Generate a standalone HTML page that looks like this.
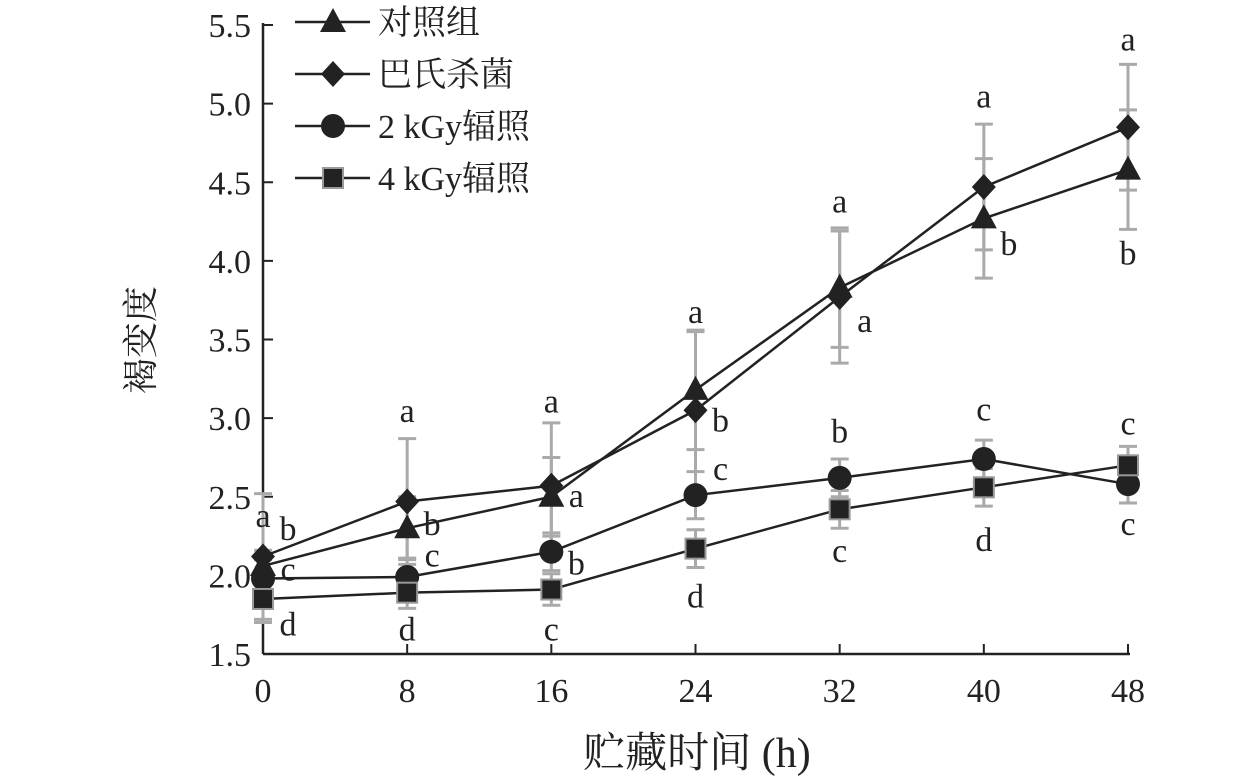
<!DOCTYPE html>
<html><head><meta charset="utf-8"><style>
html,body{margin:0;padding:0;background:#fff;}
svg{display:block;font-family:"Liberation Serif","Noto Serif CJK SC",serif;}
</style></head><body>
<svg id="chart" width="1260" height="783" viewBox="0 0 1260 783">
<g id="axes"></g><g id="err"></g><g id="lines"></g><g id="marks"></g><g id="letters"></g><g id="legend"></g>
</svg>
<script>
const xCats=[0,8,16,24,32,40,48];
const yTicks=[1.5,2.0,2.5,3.0,3.5,4.0,4.5,5.0,5.5];
const seriesNames=["对照组","巴氏杀菌","2 kGy辐照","4 kGy辐照"];
const seriesShapes=["triangle","diamond","circle","square"];
const controlVals=[2.06,2.30,2.50,3.18,3.83,4.27,4.58];
const pastVals=[2.12,2.47,2.57,3.05,3.77,4.47,4.85];
const irr2Vals=[1.98,1.99,2.15,2.51,2.62,2.74,2.58];
const irr4Vals=[1.85,1.89,1.91,2.17,2.42,2.56,2.70];
const controlErr=[0.10,0.20,0.25,0.38,0.38,0.38,0.38];
const pastErr=[0.40,0.40,0.40,0.50,0.42,0.40,0.40];
const irr2Err=[0.12,0.12,0.12,0.15,0.12,0.12,0.12];
const irr4Err=[0.15,0.10,0.10,0.12,0.12,0.12,0.12];
const letterX=[0,0,0,0,8,8,8,8,16,16,16,16,24,24,24,24,32,32,32,32,40,40,40,40,48,48,48,48];
const letterY=[2.37,2.29,2.03,1.68,3.04,2.32,2.12,1.65,3.10,2.50,2.07,1.65,3.67,2.98,2.67,1.86,4.37,3.61,2.91,2.15,5.04,4.10,3.05,2.22,5.40,4.04,2.96,2.32];
const letterText=["a","b","c","d","a","b","c","d","a","a","b","c","a","b","c","d","a","a","b","c","a","b","c","d","a","b","c","c"];
const letterShift=[0,1,1,1,0,1,1,0,0,1,1,0,0,1,1,0,0,1,0,0,0,1,0,0,0,0,0,0];

const NS="http://www.w3.org/2000/svg";
const X0=263,X1=1128,Y0=654,Y1=25;
const xs=v=>X0+(v-0)/(48-0)*(X1-X0);
const ys=v=>Y0-(v-1.5)/(5.5-1.5)*(Y0-Y1);
function el(tag,attrs,parent,txt){const e=document.createElementNS(NS,tag);for(const k in attrs)e.setAttribute(k,attrs[k]);if(txt!=null)e.textContent=txt;parent.appendChild(e);return e;}
const axes=document.getElementById('axes');
let a=el('line',{x1:X0,y1:Y0,x2:X1+2,y2:Y0,stroke:'#222','stroke-width':2.5},axes);

a=el('line',{x1:X0,y1:Y1-2,x2:X0,y2:Y0,stroke:'#222','stroke-width':2.5},axes);

yTicks.forEach(t=>{el('line',{x1:X0,y1:ys(t),x2:X0+10,y2:ys(t),stroke:'#222','stroke-width':2},axes);
 const tx=el('text',{x:X0-12,y:ys(t)+12,'text-anchor':'end','font-size':34,fill:'#222'},axes,t.toFixed(1));
 });
xCats.forEach(c=>{el('line',{x1:xs(c),y1:Y0,x2:xs(c),y2:Y0-10,stroke:'#222','stroke-width':2},axes);
 const tx=el('text',{x:xs(c),y:Y0+48,'text-anchor':'middle','font-size':34,fill:'#222'},axes,String(c));
 });
let t=el('text',{x:697,y:767,'text-anchor':'middle','font-size':42,fill:'#222'},axes,"贮藏时间 (h)");

t=el('text',{x:0,y:0,transform:'translate(153,340) rotate(-90)','text-anchor':'middle','font-size':36,fill:'#222'},axes,"褐变度");


const vals=[controlVals,pastVals,irr2Vals,irr4Vals];
const errs=[controlErr,pastErr,irr2Err,irr4Err];
function marker(shape,x,y,parent){
 let m;
 if(shape==='triangle')m=el('polygon',{points:`${x},${y-14} ${x-13},${y+10} ${x+13},${y+10}`,fill:'#222'},parent);
 else if(shape==='diamond')m=el('polygon',{points:`${x},${y-13} ${x+12},${y} ${x},${y+13} ${x-12},${y}`,fill:'#222'},parent);
 else if(shape==='circle')m=el('circle',{cx:x,cy:y,r:12,fill:'#222'},parent);
 else {m=el('rect',{x:x-10,y:y-10,width:20,height:20,fill:'#222',stroke:'#999','stroke-width':2},parent);}
 return m;}
const eg=document.getElementById('err'),lg=document.getElementById('lines'),mg=document.getElementById('marks');
vals.forEach((arr,s)=>{
 arr.forEach((v,i)=>{const x=xs(xCats[i]),hi=ys(v+errs[s][i]),lo=ys(v-errs[s][i]);
  const e=el('path',{d:`M${x},${hi}V${lo}M${x-9},${hi}H${x+9}M${x-9},${lo}H${x+9}`,stroke:'#aaa','stroke-width':3,fill:'none'},eg);
  });
 const p=el('polyline',{points:arr.map((v,i)=>xs(xCats[i])+','+ys(v)).join(' '),fill:'none',stroke:'#222','stroke-width':2.5},lg);
 
 arr.forEach((v,i)=>{const m=marker(seriesShapes[s],xs(xCats[i]),ys(v),mg);
  });
});
const lt=document.getElementById('letters');
letterText.forEach((s,i)=>{const tx=el('text',{x:xs(letterX[i])+(letterShift[i]?25:0),y:ys(letterY[i])+10,'text-anchor':'middle','font-size':34,fill:'#222'},lt,s);
 });
const lgd=document.getElementById('legend');
seriesNames.forEach((n,i)=>{const y=22+i*52;
 const g=el('g',{},lgd);
 
 el('line',{x1:295,y1:y,x2:370,y2:y,stroke:'#222','stroke-width':2.5},g);
 marker(seriesShapes[i],333,y,g);
 el('text',{x:378,y:y+12,'font-size':34,fill:'#222'},g,n);});
</script>
</body></html>
